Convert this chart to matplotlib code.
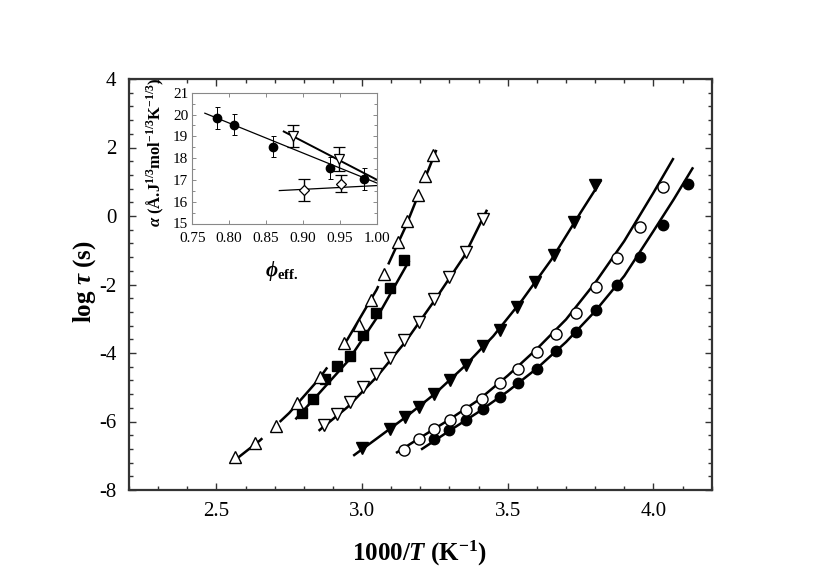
import matplotlib
matplotlib.use("Agg")
import matplotlib.pyplot as plt
from matplotlib.ticker import MultipleLocator, FormatStrFormatter

plt.rcParams['font.family'] = ['Liberation Serif', 'DejaVu Serif']
plt.rcParams['mathtext.fontset'] = 'custom'
plt.rcParams['mathtext.rm'] = 'Liberation Serif'
plt.rcParams['mathtext.it'] = 'Liberation Serif:italic'
plt.rcParams['mathtext.bf'] = 'Liberation Serif:bold'
plt.rcParams['mathtext.bfit'] = 'Liberation Serif:italic:bold'
plt.rcParams['axes.unicode_minus'] = False

# ---------------- main data (1000/T, log tau) ----------------
fc_x = [3.248, 3.300, 3.356, 3.414, 3.475, 3.534, 3.599, 3.664, 3.734, 3.802, 3.876, 3.954, 4.032, 4.117]
fc_y = [-6.52, -6.25, -5.96, -5.63, -5.28, -4.87, -4.46, -3.95, -3.38, -2.74, -2.01, -1.21, -0.26, 0.94]
fc_fit_x = [3.206, 3.30, 3.40, 3.50, 3.60, 3.70, 3.80, 3.90, 4.00, 4.07, 4.134]
fc_fit_y = [-6.80, -6.27, -5.72, -5.12, -4.45, -3.68, -2.78, -1.75, -0.44, 0.49, 1.39]

oc_x = [3.143, 3.194, 3.246, 3.301, 3.356, 3.412, 3.473, 3.534, 3.599, 3.664, 3.733, 3.802, 3.876, 3.954, 4.032]
oc_y = [-6.83, -6.52, -6.23, -5.96, -5.66, -5.33, -4.88, -4.48, -3.96, -3.45, -2.83, -2.06, -1.24, -0.31, 0.84]
oc_fit_x = [3.12, 3.20, 3.30, 3.40, 3.50, 3.60, 3.70, 3.80, 3.90, 4.00, 4.067]
oc_fit_y = [-6.90, -6.47, -5.94, -5.37, -4.66, -3.88, -3.02, -1.95, -0.73, 0.68, 1.66]

fdt_x = [3.000, 3.097, 3.148, 3.197, 3.248, 3.301, 3.355, 3.415, 3.473, 3.532, 3.595, 3.660, 3.727, 3.801]
fdt_y = [-6.78, -6.23, -5.88, -5.57, -5.20, -4.79, -4.36, -3.80, -3.32, -2.66, -1.93, -1.15, -0.18, 0.91]
fdt_fit_x = [2.973, 3.05, 3.15, 3.25, 3.35, 3.45, 3.55, 3.65, 3.75, 3.819]
fdt_fit_y = [-6.98, -6.50, -5.87, -5.19, -4.40, -3.51, -2.45, -1.27, 0.10, 1.02]

odt_x = [2.868, 2.914, 2.957, 3.003, 3.049, 3.097, 3.145, 3.194, 3.246, 3.300, 3.358, 3.415]
odt_y = [-6.10, -5.78, -5.42, -5.00, -4.62, -4.14, -3.62, -3.09, -2.43, -1.77, -1.04, -0.10]
odt_fit_x = [2.854, 2.95, 3.05, 3.15, 3.25, 3.35, 3.427]
odt_fit_y = [-6.25, -5.58, -4.70, -3.66, -2.45, -1.18, 0.15]

sq_x = [2.793, 2.833, 2.874, 2.914, 2.959, 3.003, 3.049, 3.097, 3.145]
sq_y = [-5.74, -5.35, -4.77, -4.38, -4.09, -3.47, -2.84, -2.11, -1.28]
sq_fit_x = [2.774, 2.85, 2.95, 3.05, 3.16]
sq_fit_y = [-5.91, -5.20, -4.25, -2.98, -1.33]

ut_x = [2.564, 2.633, 2.705, 2.778, 2.854, 2.939, 2.988, 3.031, 3.074, 3.125, 3.154, 3.191, 3.217, 3.245]
ut_y = [-7.03, -6.64, -6.13, -5.47, -4.71, -3.72, -3.18, -2.45, -1.69, -0.75, -0.14, 0.61, 1.17, 1.78]
ut_fit_x = [2.557, 2.65, 2.75, 2.85, 2.95, 3.05, 3.15, 3.255]
ut_fit_y = [-7.17, -6.55, -5.75, -4.78, -3.60, -2.15, -0.30, 1.93]

x_ticks = [2.5, 3.0, 3.5, 4.0]
y_ticks = [-8, -6, -4, -2, 0, 2, 4]

# ---------------- inset data (phi_eff, alpha) ----------------
in_c_x = [0.784, 0.807, 0.859, 0.937, 0.983]
in_c_y = [19.83, 19.54, 18.53, 17.54, 17.04]
in_c_err = [0.5, 0.5, 0.5, 0.5, 0.5]
in_c_fit_x = [0.767, 1.0]
in_c_fit_y = [20.06, 16.86]

in_t_x = [0.887, 0.949]
in_t_y = [19.0, 17.98]
in_t_err = [0.5, 0.55]
in_t_fit_x = [0.874, 1.0]
in_t_fit_y = [19.22, 17.01]

in_d_x = [0.902, 0.951]
in_d_y = [16.55, 16.83]
in_d_err = [0.5, 0.39]
in_d_fit_x = [0.868, 1.0]
in_d_fit_y = [16.51, 16.74]

in_x_ticks = [0.75, 0.80, 0.85, 0.90, 0.95, 1.00]
in_y_ticks = [15, 16, 17, 18, 19, 20, 21]

# ---------------- figure ----------------
W, H = 830, 586
fig = plt.figure(figsize=(W / 100, H / 100), dpi=100)
ax = fig.add_axes([129 / W, (H - 490) / H, (711.7 - 129) / W, (490 - 79) / H])

lw = 1.8
ms = 8
ax.plot(fc_fit_x, fc_fit_y, '-', color='black', lw=lw, zorder=2)
ax.plot(oc_fit_x, oc_fit_y, '-', color='black', lw=lw, zorder=2)
ax.plot(fdt_fit_x, fdt_fit_y, '-', color='black', lw=lw, zorder=2)
ax.plot(odt_fit_x, odt_fit_y, '-', color='black', lw=lw, zorder=2)
ax.plot(sq_fit_x, sq_fit_y, '-', color='black', lw=lw, zorder=2)
ax.plot(ut_fit_x, ut_fit_y, color='black', lw=lw, zorder=2,
        linestyle=(14, (29, 9.5)))

ax.plot(fc_x, fc_y, 'o', color='black', ms=7.5, zorder=3)
ax.plot(oc_x, oc_y, 'o', mfc='white', mec='black', mew=1.0, ms=8, zorder=3)
ax.plot(fdt_x, fdt_y, 'v', color='black', ms=ms, zorder=3)
ax.plot(odt_x, odt_y, 'v', mfc='white', mec='black', mew=1.0, ms=ms, zorder=3)
ax.plot(sq_x, sq_y, 's', color='black', ms=7, zorder=3)
ax.plot(ut_x, ut_y, '^', mfc='white', mec='black', mew=1.0, ms=ms, zorder=3)

ax.set_xlim(2.2, 4.2)
ax.set_ylim(-8, 4)
ax.set_xticks(x_ticks)
ax.set_yticks(y_ticks)
ax.xaxis.set_minor_locator(MultipleLocator(0.1))
ax.yaxis.set_minor_locator(MultipleLocator(0.4))
ax.xaxis.set_major_formatter(FormatStrFormatter('%.1f'))
ax.yaxis.set_major_formatter(FormatStrFormatter('%d'))
ax.tick_params(which='both', direction='in', top=True, right=True,
               color='#333333', width=1.0)
ax.tick_params(which='major', length=5, labelsize=15, pad=9)
ax.tick_params(which='minor', length=3)
for s in ax.spines.values():
    s.set_linewidth(1.6)
    s.set_color('#333333')

fig.text(420 / W, 1 - 553 / H, r'1000/$\boldsymbol{T}$ (K$^{\mathbf{-1}}$)',
         fontsize=18, fontweight='bold', ha='center', va='center')
fig.text(85 / W, 1 - 282 / H, r'log $\boldsymbol{\tau}$ (s)',
         fontsize=18, fontweight='bold', ha='center', va='center', rotation=90)

# ---------------- inset ----------------
ins = fig.add_axes([192.3 / W, (H - 223.5) / H, 184.4 / W, 130.8 / H])
ins.plot(in_c_fit_x, in_c_fit_y, '-', color='black', lw=0.9, zorder=2)
ins.plot(in_t_fit_x, in_t_fit_y, '-', color='black', lw=1.4, zorder=2)
ins.plot(in_d_fit_x, in_d_fit_y, '-', color='black', lw=0.9, zorder=2)
ins.errorbar(in_c_x, in_c_y, yerr=in_c_err, fmt='o', color='black', ms=6,
             elinewidth=0.7, capsize=1.8, capthick=0.7, zorder=3)
ins.errorbar(in_t_x, in_t_y, yerr=in_t_err, fmt='v', mfc='white', mec='black',
             ecolor='black', ms=6.5, mew=0.9, elinewidth=1.0, capsize=4.5,
             capthick=1.0, zorder=3)
ins.errorbar(in_d_x, in_d_y, yerr=in_d_err, fmt='D', mfc='white', mec='black',
             ecolor='black', ms=5, mew=0.9, elinewidth=1.0, capsize=4.5,
             capthick=1.0, zorder=3)
ins.set_xlim(0.75, 1.00)
ins.set_ylim(15, 21)
ins.set_xticks(in_x_ticks)
ins.set_yticks(in_y_ticks)
ins.yaxis.set_minor_locator(MultipleLocator(0.5))
ins.xaxis.set_major_formatter(FormatStrFormatter('%.2f'))
ins.tick_params(which='both', direction='in', top=True, right=True,
                color='#777777', width=0.6, labelsize=11, pad=3)
ins.tick_params(axis='x', pad=6)
ins.tick_params(which='major', length=3)
ins.tick_params(which='minor', length=2)
for s in ins.spines.values():
    s.set_linewidth(0.8)
    s.set_color('#888888')

fig.text(155 / W, 1 - 152 / H,
         r'$\boldsymbol{\alpha}$ (Å.J$^{\mathbf{1/3}}$mol$^{\mathbf{-1/3}}$K$^{\mathbf{-1/3}}$)',
         fontsize=12, fontweight='bold', ha='center', va='center', rotation=90)
fig.text(282 / W, 1 - 271 / H, r'$\boldsymbol{\phi}_{\mathbf{eff.}}$',
         fontsize=15, ha='center', va='center')

fig.savefig('out.png', dpi=100)
